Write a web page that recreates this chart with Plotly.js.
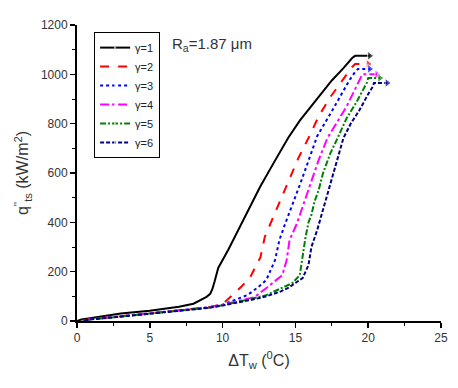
<!DOCTYPE html>
<html><head><meta charset="utf-8">
<script src="https://cdn.plot.ly/plotly-3.0.1.min.js"></script>
<style>html,body{margin:0;padding:0;background:#fff}#chart{width:458px;height:388px}</style>
</head><body><div id="chart"></div>
<script>
const names = ["γ=1","γ=2","γ=3","γ=4","γ=5","γ=6"];
const colors = ["#000000","#FF0000","#0000FF","#FF00FF","#008000","#000080"];
const dashes = ["solid","dash","dot","dashdot","6px,2px,2px,2px","4px,2px"];
const xTicks = [0,5,10,15,20,25];
const yTicks = [0,200,400,600,800,1000,1200];

const x1 = [0,0.3,1,2,3,5,6,7,8,8.45,8.9,9.15,9.3,9.45,9.7,10.4,11.06,11.8,12.57,13.5,14.5,15.3,16.0,16.7,17.5,18.3,18.9,19.1,20.1];
const y1 = [0,6,12,22,30,42,50,58,70,85,98,110,130,160,215,290,369,455,543,640,742,812,865,916,975,1025,1066,1075,1075];

const x2 = [0.4,1,2,3,5,7,9,10,10.7,11.3,11.9,12.6,12.9,13.4,14.5,15.2,15.9,16.6,17.4,18.2,18.9,19.1,20.0];
const y2 = [2,8,13,19,30,42,55,68,105,140,178,259,341,410,563,660,742,830,908,975,1030,1042,1042];

const x3 = [0.5,1,2,3,5,7,9,10,11,11.7,12.4,13.0,13.6,13.9,14.3,14.8,15.3,15.9,16.5,17.4,18.2,18.7,19.1,19.3,20.1];
const y3 = [2,8,13,19,30,42,55,66,88,105,135,166,247,328,395,470,551,650,750,840,924,975,1010,1022,1022];

const x4 = [0.5,1,2,3,5,7,9,10,11,12.2,13.1,14.1,14.4,14.6,15.1,15.8,16.6,17.2,17.9,18.5,19.1,19.6,20.6];
const y4 = [2,8,13,19,30,42,55,66,80,97,138,186,247,328,395,519,653,742,810,868,940,1000,1000];

const x5 = [0.5,1,2,3,5,7,9,10,11,12,13,13.8,14.8,15.3,15.5,15.7,15.9,16.1,16.3,16.6,16.9,17.4,17.9,18.5,19.2,19.9,20.0,20.8];
const y5 = [2,7,12,18,29,41,54,64,76,90,105,126,154,186,275,341,400,430,482,531,600,680,742,820,888,965,985,985];

const x6 = [0.5,1,2,3,5,7,9,10,11,12,13,14,14.5,15.5,15.9,16.1,16.5,16.7,17.1,17.6,18.3,18.8,19.4,20.0,20.3,20.4,21.3];
const y6 = [2,7,12,18,28,40,53,63,74,86,100,120,134,174,227,300,369,410,500,600,742,800,855,920,949,965,965];

const xs = [x1,x2,x3,x4,x5,x6];
const ys = [y1,y2,y3,y4,y5,y6];

const traces = xs.map((x,i)=>({
  x: x, y: ys[i], name: names[i], type: "scatter", mode: "lines+markers",
  line: {color: colors[i], width: 2, dash: dashes[i]},
  marker: {symbol: "triangle-right", color: colors[i],
           size: x.map((v,j)=> j===x.length-1 ? 8 : 0)}
}));

const FONT = "Arial, Liberation Sans, sans-serif";
const base = {
  showline: true, linecolor: "#000", linewidth: 2,
  tickwidth: 1.5, tickcolor: "#000", ticklen: 5,
  showgrid: false, zeroline: false,
  tickfont: {family: FONT, size: 12, color: "#333"}
};

const layout = {
  width: 458, height: 388,
  margin: {l: 77, r: 17, t: 25, b: 67},
  paper_bgcolor: "#fff", plot_bgcolor: "#fff",
  font: {family: FONT, color: "#333"},
  showlegend: true,
  legend: {x: 0.047, y: 0.976, xanchor: "left", yanchor: "top",
           bordercolor: "#000", borderwidth: 1, bgcolor: "#fff",
           font: {size: 11, color: "#222"}, tracegroupgap: 0, itemwidth: 30},
  xaxis: Object.assign({}, base, {
    range: [0, 25], tickvals: xTicks, ticks: "outside",
    minor: {ticks: "outside", ticklen: 3, tickwidth: 1, tickcolor: "#000", dtick: 2.5},
    title: {text: "ΔT<sub>w</sub> (<sup>0</sup>C)", font: {size: 16, color: "#333"}, standoff: 10}
  }),
  yaxis: Object.assign({}, base, {
    range: [0, 1200], tickvals: yTicks, ticks: "outside",
    minor: {ticks: "outside", ticklen: 3, tickwidth: 1, tickcolor: "#000", dtick: 100},
    title: {text: "q<sup>''</sup><sub>ts</sub> (kW/m<sup>2</sup>)", font: {size: 16, color: "#333"}, standoff: 8}
  }),
  xaxis2: Object.assign({}, base, {
    overlaying: "x", side: "top", anchor: "y", range: [0, 25], tickvals: xTicks,
    ticks: "inside", showticklabels: false,
    minor: {ticks: "inside", ticklen: 3, tickwidth: 1, tickcolor: "#000", dtick: 2.5}
  }),
  yaxis2: Object.assign({}, base, {
    overlaying: "y", side: "right", anchor: "x", range: [0, 1200], tickvals: yTicks,
    ticks: "inside", showticklabels: false,
    minor: {ticks: "inside", ticklen: 3, tickwidth: 1, tickcolor: "#000", dtick: 100}
  }),
  annotations: [{
    xref: "paper", yref: "paper", x: 0.255, y: 0.935, xanchor: "left", yanchor: "middle",
    text: "R<sub>a</sub>=1.87 μm", showarrow: false,
    font: {size: 15, color: "#333", family: FONT}
  }]
};

Plotly.newPlot("chart", traces, layout, {displayModeBar: false, staticPlot: true});
</script></body></html>
